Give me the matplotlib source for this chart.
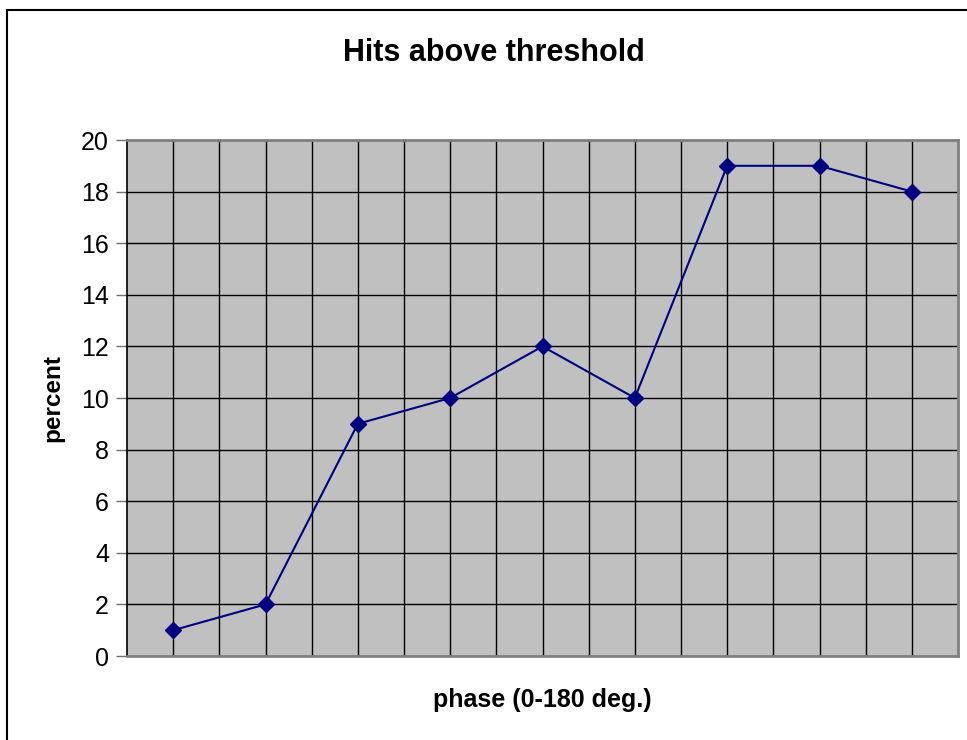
import numpy as np
import matplotlib

matplotlib.use("Agg")
import matplotlib.pyplot as plt
from matplotlib.patches import Rectangle

# phase bins (0-180 deg. split into 9 bins) and percent of hits above threshold
phase_bin = [1, 2, 3, 4, 5, 6, 7, 8, 9]
percent = [1, 2, 9, 10, 12, 10, 19, 19, 18]
y_ticks = [0, 2, 4, 6, 8, 10, 12, 14, 16, 18, 20]

NAVY = "#000080"
PLOT_BG = "#C0C0C0"

plt.rcParams["font.family"] = ["Liberation Sans", "DejaVu Sans"]

fig = plt.figure(figsize=(9.67, 7.40), dpi=100)
W, H = 967, 740

# outer chart border (Excel chart area), runs off the right/bottom edge
fig.patches.append(Rectangle((7 / W, -0.05), 1.1, 1 - 10 / H + 0.05, transform=fig.transFigure,
                             fill=False, ec="black", lw=1.5))

ax = fig.add_axes([127 / W, 1 - 656 / H, (958 - 127) / W, (656 - 140) / H])
ax.set_facecolor(PLOT_BG)

ax.set_xlim(0.5, len(phase_bin) + 0.5)
ax.set_ylim(0, 20)

# grid: vertical lines every half bin, horizontal every 2 %
for x in np.arange(1.0, len(phase_bin) + 0.5, 0.5):
    ax.axvline(x, color="black", lw=1.0, zorder=1)
for y in y_ticks[1:-1]:
    ax.axhline(y, color="black", lw=1.0, zorder=1)

ax.plot(phase_bin, percent, color=NAVY, lw=1.5, marker="D", ms=8, mec=NAVY, mfc=NAVY, zorder=3)

ax.set_yticks(y_ticks)
ax.set_xticks([])
ax.tick_params(axis="y", labelsize=18, length=8, width=1.0, color="#707070", pad=5)

for side in ["top", "right", "bottom"]:
    ax.spines[side].set_color("#808080")
    ax.spines[side].set_linewidth(2.0)
ax.spines["left"].set_color("black")
ax.spines["left"].set_linewidth(1.2)

fig.text(494 / W, 1 - 53 / H, "Hits above threshold", ha="center", va="center",
         fontsize=22, fontweight="bold")
fig.text(53 / W, 1 - 398 / H, "percent", ha="center", va="center", rotation=90,
         fontsize=17.5, fontweight="bold")
fig.text(542 / W, 1 - 700 / H, "phase (0-180 deg.)", ha="center", va="center",
         fontsize=18, fontweight="bold")

fig.savefig("out.png", dpi=100)
